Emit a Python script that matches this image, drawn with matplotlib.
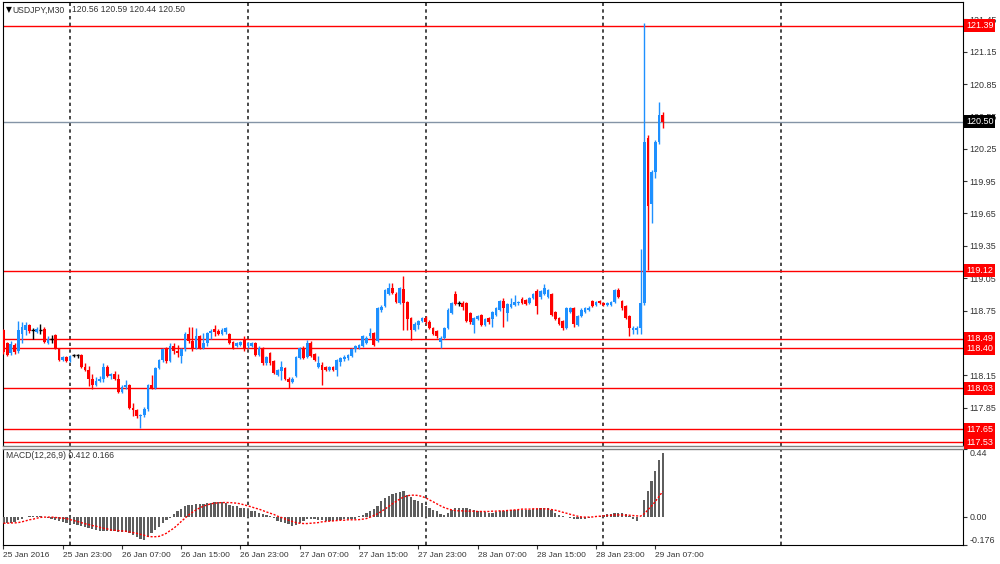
import numpy as np
import pandas as pd
import matplotlib
matplotlib.use("Agg")
import matplotlib.pyplot as plt
from matplotlib.transforms import blended_transform_factory

# ---------------- data ----------------
symbol = "USDJPY,M30"
start_time = "2016-01-25 15:00"

opens = [118.57, 118.45, 118.36, 118.43, 118.38, 118.53, 118.57, 118.62, 118.57, 118.55,
         118.57, 118.58, 118.45, 118.49, 118.52, 118.40, 118.29, 118.32, 118.28, 118.34,
         118.34, 118.34, 118.23, 118.20, 118.12, 118.06, 118.10, 118.12, 118.23, 118.14,
         118.16, 118.12, 118.00, 118.04, 118.06, 117.85, 117.83, 117.77, 117.78, 117.84,
         118.06, 118.03, 118.22, 118.29, 118.39, 118.28, 118.42, 118.38, 118.33, 118.39,
         118.53, 118.47, 118.40, 118.51, 118.40, 118.45, 118.54, 118.58, 118.56, 118.53,
         118.55, 118.53, 118.46, 118.42, 118.43, 118.49, 118.42, 118.42, 118.45, 118.34,
         118.40, 118.26, 118.36, 118.28, 118.15, 118.19, 118.22, 118.12, 118.09, 118.14,
         118.31, 118.40, 118.32, 118.45, 118.35, 118.23, 118.25, 118.23, 118.20, 118.23,
         118.20, 118.27, 118.30, 118.31, 118.33, 118.39, 118.40, 118.42, 118.45, 118.51,
         118.54, 118.47, 118.76, 118.79, 118.90, 118.96, 118.90, 118.82, 118.95, 118.83,
         118.68, 118.57, 118.62, 118.65, 118.68, 118.64, 118.59, 118.56, 118.46, 118.50,
         118.59, 118.73, 118.90, 118.82, 118.82, 118.82, 118.73, 118.62, 118.67, 118.71,
         118.62, 118.68, 118.67, 118.71, 118.76, 118.84, 118.73, 118.78, 118.80, 118.82,
         118.86, 118.85, 118.82, 118.87, 118.93, 118.88, 118.90, 118.88, 118.90, 118.74,
         118.68, 118.65, 118.59, 118.74, 118.77, 118.62, 118.70, 118.74, 118.76, 118.84,
         118.80, 118.84, 118.82, 118.80, 118.80, 118.83, 118.94, 118.84, 118.79, 118.70,
         118.57, 118.57, 118.59, 118.82, 120.35, 119.74, 120.03, 120.31, 120.56]
highs = [118.58, 118.46, 118.47, 118.45, 118.65, 118.64, 118.64, 118.63, 118.59, 118.60,
         118.63, 118.60, 118.51, 118.52, 118.53, 118.40, 118.33, 118.33, 118.34, 118.35,
         118.35, 118.35, 118.26, 118.24, 118.16, 118.13, 118.14, 118.26, 118.25, 118.17,
         118.19, 118.16, 118.06, 118.11, 118.07, 117.89, 117.84, 117.79, 117.86, 118.07,
         118.15, 118.23, 118.30, 118.40, 118.41, 118.45, 118.45, 118.43, 118.40, 118.55,
         118.60, 118.60, 118.59, 118.52, 118.54, 118.55, 118.58, 118.62, 118.58, 118.59,
         118.60, 118.54, 118.47, 118.46, 118.47, 118.51, 118.46, 118.46, 118.46, 118.42,
         118.41, 118.33, 118.37, 118.29, 118.21, 118.28, 118.23, 118.13, 118.13, 118.33,
         118.41, 118.42, 118.48, 118.47, 118.36, 118.33, 118.27, 118.24, 118.24, 118.24,
         118.30, 118.32, 118.34, 118.35, 118.40, 118.43, 118.44, 118.52, 118.51, 118.59,
         118.55, 118.78, 118.80, 118.95, 119.01, 119.01, 118.92, 118.97, 119.07, 118.84,
         118.69, 118.64, 118.66, 118.69, 118.70, 118.66, 118.60, 118.57, 118.51, 118.60,
         118.77, 118.83, 118.93, 118.84, 118.84, 118.83, 118.74, 118.69, 118.71, 118.72,
         118.68, 118.69, 118.75, 118.78, 118.85, 118.87, 118.82, 118.87, 118.89, 118.84,
         118.88, 118.86, 118.88, 118.91, 118.95, 118.94, 119.00, 118.95, 118.91, 118.75,
         118.69, 118.66, 118.78, 118.78, 118.78, 118.71, 118.77, 118.78, 118.79, 118.85,
         118.84, 118.85, 118.83, 118.83, 118.84, 118.95, 118.96, 118.85, 118.80, 118.71,
         118.61, 118.61, 119.32, 121.42, 120.38, 120.05, 120.33, 120.68, 120.59]
lows = [118.35, 118.33, 118.34, 118.35, 118.36, 118.45, 118.52, 118.54, 118.49, 118.54,
        118.53, 118.45, 118.44, 118.45, 118.39, 118.28, 118.28, 118.27, 118.27, 118.32,
        118.31, 118.22, 118.19, 118.05, 118.02, 118.05, 118.09, 118.09, 118.13, 118.12,
        118.11, 117.99, 117.99, 118.02, 117.84, 117.77, 117.75, 117.66, 117.76, 117.82,
        118.02, 118.02, 118.21, 118.27, 118.26, 118.27, 118.35, 118.32, 118.26, 118.38,
        118.45, 118.38, 118.39, 118.39, 118.39, 118.42, 118.49, 118.51, 118.52, 118.52,
        118.53, 118.44, 118.39, 118.41, 118.42, 118.38, 118.40, 118.41, 118.33, 118.33,
        118.25, 118.25, 118.25, 118.16, 118.14, 118.11, 118.11, 118.03, 118.08, 118.13,
        118.30, 118.30, 118.31, 118.32, 118.28, 118.22, 118.06, 118.19, 118.19, 118.19,
        118.14, 118.24, 118.28, 118.29, 118.32, 118.37, 118.39, 118.41, 118.44, 118.50,
        118.42, 118.46, 118.74, 118.78, 118.89, 118.90, 118.82, 118.81, 118.57, 118.57,
        118.48, 118.56, 118.58, 118.64, 118.63, 118.58, 118.52, 118.50, 118.40, 118.49,
        118.58, 118.72, 118.80, 118.79, 118.76, 118.64, 118.63, 118.54, 118.66, 118.61,
        118.61, 118.63, 118.60, 118.70, 118.75, 118.60, 118.65, 118.77, 118.79, 118.80,
        118.81, 118.80, 118.81, 118.86, 118.72, 118.86, 118.89, 118.87, 118.70, 118.66,
        118.62, 118.57, 118.58, 118.73, 118.60, 118.61, 118.69, 118.73, 118.75, 118.78,
        118.79, 118.81, 118.79, 118.79, 118.79, 118.82, 118.87, 118.76, 118.67, 118.51,
        118.53, 118.53, 118.53, 118.80, 119.13, 119.56, 119.98, 120.29, 120.44]
closes = [118.37, 118.34, 118.44, 118.37, 118.57, 118.60, 118.62, 118.56, 118.57, 118.58,
          118.57, 118.46, 118.49, 118.49, 118.40, 118.29, 118.32, 118.28, 118.33, 118.34,
          118.34, 118.23, 118.20, 118.12, 118.06, 118.10, 118.12, 118.23, 118.14, 118.16,
          118.12, 118.00, 118.04, 118.06, 117.85, 117.83, 117.77, 117.78, 117.84, 118.06,
          118.03, 118.22, 118.29, 118.39, 118.28, 118.42, 118.38, 118.36, 118.39, 118.53,
          118.47, 118.40, 118.51, 118.40, 118.45, 118.54, 118.56, 118.55, 118.53, 118.57,
          118.59, 118.45, 118.40, 118.45, 118.46, 118.40, 118.45, 118.45, 118.34, 118.40,
          118.26, 118.32, 118.26, 118.17, 118.20, 118.23, 118.12, 118.09, 118.12, 118.32,
          118.40, 118.31, 118.45, 118.33, 118.29, 118.26, 118.20, 118.20, 118.23, 118.20,
          118.29, 118.31, 118.32, 118.34, 118.39, 118.42, 118.43, 118.51, 118.50, 118.54,
          118.43, 118.77, 118.78, 118.94, 118.96, 118.91, 118.83, 118.96, 118.82, 118.67,
          118.57, 118.63, 118.65, 118.68, 118.64, 118.59, 118.53, 118.51, 118.50, 118.59,
          118.76, 118.82, 118.81, 118.82, 118.78, 118.65, 118.64, 118.68, 118.70, 118.62,
          118.67, 118.64, 118.74, 118.77, 118.84, 118.77, 118.81, 118.81, 118.83, 118.83,
          118.82, 118.81, 118.87, 118.90, 118.79, 118.93, 118.96, 118.94, 118.71, 118.67,
          118.63, 118.59, 118.77, 118.77, 118.63, 118.70, 118.76, 118.77, 118.77, 118.79,
          118.83, 118.82, 118.80, 118.82, 118.83, 118.94, 118.88, 118.77, 118.68, 118.59,
          118.59, 118.59, 118.82, 120.31, 119.72, 120.03, 120.31, 120.56, 120.50]

macd_main = [-0.037, -0.037, -0.033, -0.028, -0.015, -0.007, 0.0, 0.006, 0.008, 0.008,
             0.006, 0.002, -0.003, -0.009, -0.015, -0.022, -0.028, -0.035, -0.045, -0.045,
             -0.05, -0.054, -0.061, -0.067, -0.073, -0.08, -0.086, -0.084, -0.084, -0.088,
             -0.088, -0.09, -0.093, -0.093, -0.101, -0.112, -0.127, -0.14, -0.144, -0.127,
             -0.101, -0.08, -0.058, -0.033, -0.015, -0.005, 0.023, 0.038, 0.053, 0.07,
             0.078, 0.082, 0.085, 0.085, 0.087, 0.091, 0.095, 0.097, 0.1, 0.097,
             0.091, 0.082, 0.076, 0.07, 0.063, 0.057, 0.053, 0.044, 0.038, 0.031,
             0.023, 0.014, 0.006, -0.003, -0.02, -0.028, -0.037, -0.045, -0.054, -0.05,
             -0.033, -0.024, -0.011, -0.007, -0.011, -0.015, -0.015, -0.02, -0.02, -0.02,
             -0.015, -0.015, -0.011, -0.011, -0.01, -0.008, 0.01, 0.017, 0.027, 0.044,
             0.053, 0.074, 0.102, 0.123, 0.138, 0.151, 0.159, 0.164, 0.166, 0.144,
             0.13, 0.112, 0.102, 0.091, 0.074, 0.059, 0.048, 0.038, 0.023, 0.017,
             0.031, 0.048, 0.059, 0.059, 0.063, 0.059, 0.055, 0.048, 0.044, 0.038,
             0.033, 0.031, 0.031, 0.035, 0.04, 0.04, 0.044, 0.046, 0.046, 0.048,
             0.048, 0.048, 0.048, 0.053, 0.055, 0.057, 0.057, 0.057, 0.048, 0.031,
             0.017, 0.006, 0.002, -0.003, -0.007, -0.009, -0.009, -0.007, -0.003, 0.002,
             0.006, 0.01, 0.014, 0.019, 0.023, 0.027, 0.031, 0.027, 0.019, 0.006,
             -0.007, -0.02, 0.002, 0.112, 0.166, 0.23, 0.294, 0.369, 0.412]
macd_signal = [-0.037, -0.037, -0.035, -0.035, -0.033, -0.028, -0.022, -0.015, -0.011, -0.005,
               0.0, 0.002, 0.002, 0.002, 0.0, -0.003, -0.005, -0.007, -0.014, -0.02,
               -0.026, -0.033, -0.04, -0.045, -0.052, -0.056, -0.063, -0.069, -0.073, -0.08,
               -0.082, -0.084, -0.086, -0.088, -0.093, -0.097, -0.101, -0.108, -0.114, -0.121,
               -0.123, -0.123, -0.121, -0.112, -0.101, -0.084, -0.069, -0.048, -0.026, -0.005,
               0.016, 0.033, 0.048, 0.061, 0.072, 0.08, 0.087, 0.091, 0.093, 0.095,
               0.095, 0.095, 0.093, 0.091, 0.087, 0.08, 0.074, 0.067, 0.059, 0.053,
               0.044, 0.035, 0.027, 0.019, 0.008, 0.0, -0.009, -0.018, -0.026, -0.033,
               -0.037, -0.039, -0.039, -0.037, -0.035, -0.033, -0.028, -0.026, -0.024, -0.022,
               -0.02, -0.018, -0.018, -0.015, -0.015, -0.015, -0.014, -0.011, -0.007, 0.002,
               0.012, 0.023, 0.038, 0.053, 0.07, 0.087, 0.102, 0.117, 0.13, 0.138,
               0.142, 0.142, 0.14, 0.134, 0.125, 0.112, 0.1, 0.087, 0.074, 0.063,
               0.055, 0.048, 0.044, 0.042, 0.042, 0.04, 0.04, 0.04, 0.038, 0.038,
               0.038, 0.038, 0.04, 0.04, 0.042, 0.042, 0.044, 0.046, 0.048, 0.05,
               0.053, 0.053, 0.053, 0.055, 0.055, 0.055, 0.055, 0.053, 0.05, 0.046,
               0.04, 0.033, 0.027, 0.02, 0.014, 0.008, 0.003, 0.002, 0.002, 0.003,
               0.006, 0.008, 0.01, 0.012, 0.014, 0.016, 0.016, 0.016, 0.014, 0.014,
               0.012, 0.01, 0.008, 0.023, 0.048, 0.074, 0.102, 0.134, 0.166]

red_levels = [121.39, 119.12, 118.49, 118.40, 118.03, 117.65, 117.53]
bid_level = 120.50
price_ticks = [117.55, 117.85, 118.15, 118.45, 118.75, 119.05, 119.35,
               119.65, 119.95, 120.25, 120.55, 120.85, 121.15, 121.45]
# tick labels fully covered by level boxes in the reference are left blank
hidden_tick_labels = [117.55, 118.45]
macd_ticks = [0.44, 0.0, -0.176]
macd_tick_labels = ["0.44", "0.00", "-0.176"]
first_label = "25 Jan 2016"
time_labels = ["2016-01-25 23:00", "2016-01-26 07:00", "2016-01-26 15:00", "2016-01-26 23:00",
               "2016-01-27 07:00", "2016-01-27 15:00", "2016-01-27 23:00", "2016-01-28 07:00",
               "2016-01-28 15:00", "2016-01-28 23:00", "2016-01-29 07:00"]
separator_days = ["2016-01-26", "2016-01-27", "2016-01-28", "2016-01-29", "2016-01-30"]

n = len(closes)
assert len(opens) == n and len(highs) == n and len(lows) == n, (len(opens), len(highs), len(lows), n)
assert len(macd_main) == n and len(macd_signal) == n, (len(macd_main), len(macd_signal), n)

t0 = pd.Timestamp(start_time)
step = pd.Timedelta(minutes=30)
def bar_index(ts):
    return (pd.Timestamp(ts) - t0) / step

x = np.arange(n)
o = np.array(opens); h = np.array(highs); l = np.array(lows); c = np.array(closes)

# ---------------- figure ----------------
W, H = 1000, 564
fig = plt.figure(figsize=(W / 100, H / 100), dpi=100)
fig.patch.set_facecolor("white")

def rect(x0, y0, x1, y1):
    return [x0 / W, 1 - y1 / H, (x1 - x0) / W, (y1 - y0) / H]

ax = fig.add_axes(rect(2.7, 2, 962.7, 446))
ax2 = fig.add_axes(rect(2.7, 448.5, 962.7, 545))

xmin, xmax = -0.197, 258.98
FONT = "Liberation Sans"
TXT = "#333333"

# --- candles
up_col, dn_col, doji_col = "#1E90FF", "#FF0000", "#000000"
cols = [up_col if cc > oo else (dn_col if cc < oo else doji_col) for oo, cc in zip(o, c)]
ax.vlines(x, l, h, colors=cols, lw=1.0, zorder=3)
body_bottom = np.minimum(o, c)
body_h = np.abs(c - o)
for xi, bb, bh, col in zip(x, body_bottom, body_h, cols):
    if bh == 0:
        ax.hlines(bb, xi - 0.45, xi + 0.45, colors=col, lw=1.0, zorder=4)
    else:
        ax.bar(xi, max(bh, 0.008), bottom=bb, width=0.74, color=col, lw=0, zorder=4)

# --- horizontal levels
for lv in red_levels:
    ax.axhline(lv, color="#FF0000", lw=1.0, zorder=2)
ax.axhline(bid_level, color="#8494a6", lw=1.0, zorder=2)

# --- separators
for d in separator_days:
    k = bar_index(d + " 00:00")
    for a in (ax, ax2):
        a.axvline(k, color="#2a2a2a", lw=1.2, ls=(0, (2, 2)), zorder=1)

ax.set_xlim(xmin, xmax)
ax.set_ylim(117.495, 121.61)
ax.set_xticks([])
ax.yaxis.tick_right()
ax.set_yticks(price_ticks)
ax.set_yticklabels(["" if v in hidden_tick_labels else f"{v:.2f}" for v in price_ticks],
                   fontfamily=FONT)
ax.tick_params(axis="y", which="both", length=3, width=0.8, colors=TXT, labelsize=6.4, pad=2)
for s in ("left", "top", "right"):
    ax.spines[s].set_color("black")
    ax.spines[s].set_linewidth(0.8)
ax.spines["bottom"].set_color("#808080")
ax.spines["bottom"].set_linewidth(1.0)

trans = blended_transform_factory(ax.transAxes, ax.transData)
for lv in red_levels:
    ax.text(1.0035, lv, f"{lv:.2f}", transform=trans, ha="left", va="center",
            fontsize=6.5, fontfamily=FONT, color="white", zorder=20, clip_on=False,
            bbox=dict(boxstyle="square,pad=0.2", fc="#FF0000", ec="none"))
ax.text(1.0035, bid_level, f"{bid_level:.2f}", transform=trans, ha="left", va="center",
        fontsize=6.5, fontfamily=FONT, color="white", zorder=20, clip_on=False,
        bbox=dict(boxstyle="square,pad=0.2", fc="#000000", ec="none"))

# --- header
fig.text(6 / W, 1 - 10 / H, "▼", fontsize=5.5, color="black", va="center", ha="left",
         fontfamily="DejaVu Sans")
fig.text(12.7 / W, 1 - 10 / H, symbol, fontsize=6.2, color=TXT, va="center", ha="left",
         fontfamily=FONT)
fig.text(72 / W, 1 - 10 / H, f"{opens[-1]:.2f} {highs[-1]:.2f} {lows[-1]:.2f} {closes[-1]:.2f}",
         fontsize=6.2, color=TXT, va="center", ha="left", fontfamily=FONT)

# --- MACD panel
ax2.bar(x, macd_main, width=0.62, color="#5e5e5e", lw=0, zorder=3)
ax2.plot(x, macd_signal, color="#FF0000", lw=1.0, ls=(0, (1.5, 1.2)), zorder=4)
ax2.set_xlim(xmin, xmax)
ax2.set_ylim(-0.176, 0.44)
ax2.yaxis.tick_right()
ax2.set_yticks(macd_ticks)
ax2.set_yticklabels(macd_tick_labels, fontfamily=FONT)
ax2.tick_params(axis="y", length=3, width=0.8, colors=TXT, labelsize=6.4, pad=2)
yl = ax2.get_yticklabels()
yl[0].set_va("top")
yl[1].set_va("center")
yl[2].set_va("bottom")
ax2.text(0.0035, 0.925, f"MACD(12,26,9) {macd_main[-1]:.3f} {macd_signal[-1]:.3f}",
         transform=ax2.transAxes, fontsize=6.2, fontfamily=FONT, color=TXT,
         ha="left", va="center")
xt = [0] + [bar_index(t) for t in time_labels]
xtl = [first_label] + [pd.Timestamp(t).strftime("%d %b %H:%M") for t in time_labels]
ax2.set_xticks(xt)
ax2.set_xticklabels(xtl, fontfamily=FONT)
for lab in ax2.get_xticklabels():
    lab.set_ha("left")
ax2.tick_params(axis="x", length=3, width=0.8, colors=TXT, labelsize=6.0, pad=2)
for s in ("left", "right", "bottom"):
    ax2.spines[s].set_color("black")
    ax2.spines[s].set_linewidth(0.8)
ax2.spines["top"].set_color("#808080")
ax2.spines["top"].set_linewidth(1.0)

fig.savefig("out.png", dpi=100, facecolor="white")
